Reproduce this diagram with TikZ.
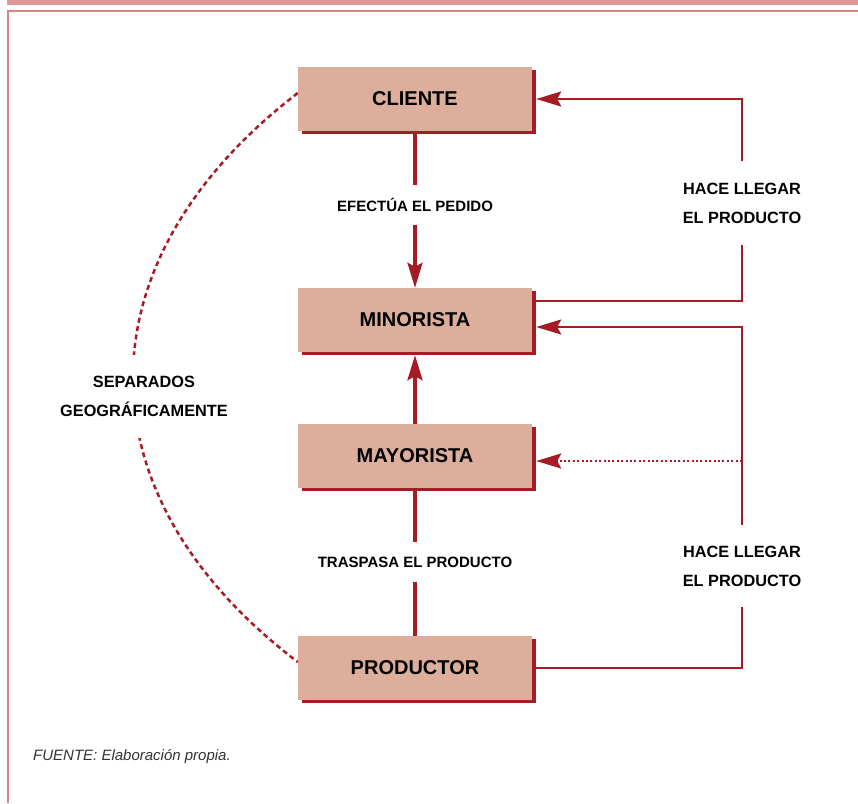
\documentclass[tikz,border=0pt]{standalone}
\usepackage{fontspec}
\setmainfont{Liberation Sans}
\usetikzlibrary{arrows.meta,shadows}
\definecolor{rojo}{HTML}{A61C24}
\definecolor{salmon}{HTML}{DCAE9B}
\definecolor{rosa}{HTML}{DF9797}
\definecolor{marco}{HTML}{D98484}
\definecolor{gris}{HTML}{333333}
\tikzset{
  caja/.style={fill=salmon, minimum width=234pt, minimum height=64pt, inner sep=0pt,
    font=\fontsize{20}{24}\selectfont\bfseries,
    drop shadow={shadow xshift=3.5pt, shadow yshift=-3pt, fill=rojo, opacity=1}},
  etiqueta/.style={font=\fontsize{15}{18}\selectfont\bfseries, inner sep=0pt},
  lateral/.style={font=\fontsize{16.3}{29}\selectfont\bfseries, align=center, inner sep=0pt},
  gruesa/.style={draw=rojo, line width=3.5pt},
  fina/.style={draw=rojo, line width=2.4pt},
  punta/.style={-{Stealth[length=25pt, width=15pt, inset=4pt]}}
}
\begin{document}
\begin{tikzpicture}[x=1pt, y=-1pt]
\useasboundingbox (0,0) rectangle (858,803);
% marco
\fill[rosa] (7,0) rectangle (858,5);
\draw[marco, line width=2.5pt] (8,803) -- (8,11) -- (858,11);

% cajas
\node[caja] (cliente) at (415,99) {CLIENTE};
\node[caja] (minorista) at (415,320) {MINORISTA};
\node[caja] (mayorista) at (415,456) {MAYORISTA};
\node[caja] (productor) at (415,668) {PRODUCTOR};

% etiquetas
\node[etiqueta, minimum height=40pt] (pedido) at (415,205) {EFECT\'UA EL PEDIDO};
\node[etiqueta, minimum height=39pt] (traspasa) at (415,562) {TRASPASA EL PRODUCTO};
\node[lateral, minimum height=83pt] (llegar1) at (742,203) {HACE LLEGAR\\EL PRODUCTO};
\node[lateral, minimum height=82pt] (llegar2) at (742,566) {HACE LLEGAR\\EL PRODUCTO};
\coordinate (rama) at (742,461);

% flujo central
\draw[gruesa] (cliente.south) -- (pedido.north);
\draw[gruesa, punta] (pedido.south) -- (minorista.north);
\draw[gruesa, punta] (mayorista.north) -- ([yshift=-3pt]minorista.south);
\draw[gruesa] (productor.north) -- (traspasa.south);
\draw[gruesa] (traspasa.north) -- (mayorista.south);

% entregas
\draw[fina] ([yshift=19pt]minorista.east) -| (llegar1.south);
\draw[fina, punta] (llegar1.north) |- ([xshift=4pt]cliente.east);
\draw[fina] (productor.east) -| (llegar2.south);
\draw[fina, punta] (llegar2.north) |- ([xshift=4pt, yshift=-7pt]minorista.east);
\draw[fina, line width=2pt, dash pattern=on 2pt off 2.4pt, punta] (rama) -- ([xshift=4pt, yshift=-5pt]mayorista.east);

% separacion geografica
\draw[rojo, line width=2.5pt, dash pattern=on 5pt off 3.5pt]
  ([yshift=6pt]cliente.west) .. controls (78,262) and (78,495) .. ([yshift=6pt]productor.west);
\node[lateral, fill=white, minimum height=83pt] (separados) at (144,396) {SEPARADOS\\GEOGR\'AFICAMENTE};

\node[anchor=west, text=gris, inner sep=0pt, font=\fontsize{15}{18}\selectfont\itshape] (fuente) at (33,757) {FUENTE: Elaboraci\'on propia.};
\end{tikzpicture}
\end{document}
